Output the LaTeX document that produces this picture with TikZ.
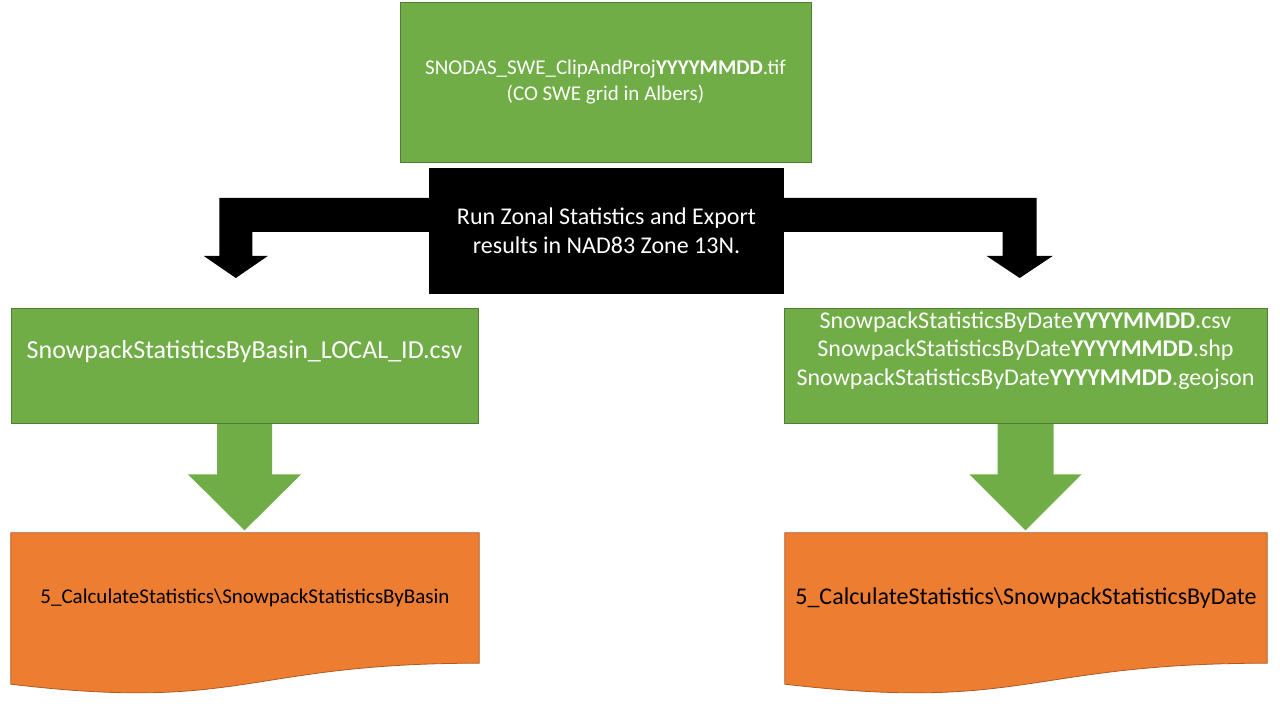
\documentclass[tikz,border=0pt]{standalone}
\usepackage{fontspec}
\setmainfont{Carlito}
\usetikzlibrary{calc,backgrounds}
\definecolor{boxgreen}{HTML}{70AD47}
\definecolor{linegreen}{HTML}{507E32}
\definecolor{boxorange}{HTML}{ED7D31}
\definecolor{lineorange}{HTML}{AE5A21}

\begin{document}
\begin{tikzpicture}[x=1pt,y=1pt,
  greenbox/.style={draw=linegreen,fill=boxgreen,line width=0.8pt,inner sep=0pt},
  greentext/.style={text=white,align=center,inner sep=0pt},
  blackbox/.style={fill=black,text=white,align=center,inner sep=0pt},
  folder/.style={align=center,inner sep=0pt},
  folderfill/.style={draw=lineorange,fill=boxorange,line width=0.8pt}]
  \useasboundingbox (0,0) rectangle (1280,720);

  \node[greenbox,greentext,minimum width=411,minimum height=160,
    font=\fontsize{21}{26}\selectfont] (grid) at (605.5,638)
    {SNODAS\_SWE\_ClipAndProj\textbf{YYYYMMDD}.tif\\(CO SWE grid in Albers)};
  \node[blackbox,minimum width=355,minimum height=126,
    font=\fontsize{24}{29}\selectfont] (zonal) at (606.5,489)
    {Run Zonal Statistics and Export\\results in NAD83 Zone 13N.};

  \node[greenbox,minimum width=467,minimum height=115] (basin) at (244.5,354.5) {};
  \node[greentext,font=\fontsize{26}{31}\selectfont] (basintext) at ($(basin.center)+(0,14)$)
    {SnowpackStatisticsByBasin\_LOCAL\_ID.csv};
  \node[greenbox,minimum width=483,minimum height=115] (date) at (1025.5,354.5) {};
  \node[greentext,font=\fontsize{24}{28.5}\selectfont] (datetext) at ($(date.center)+(0,15)$)
    {SnowpackStatisticsByDate\textbf{YYYYMMDD}.csv\\
     SnowpackStatisticsByDate\textbf{YYYYMMDD}.shp\\
     SnowpackStatisticsByDate\textbf{YYYYMMDD}.geojson};

  \node[folder,minimum width=468,minimum height=130,font=\fontsize{21}{25}\selectfont]
    (basinfolder) at (245,122) {5\_CalculateStatistics\textbackslash SnowpackStatisticsByBasin};
  \node[folder,minimum width=482,minimum height=130,font=\fontsize{24}{29}\selectfont]
    (datefolder) at (1026,122) {5\_CalculateStatistics\textbackslash SnowpackStatisticsByDate};

  \begin{scope}[on background layer]
    % bent arrows out of the black box
    \fill[black] (zonal.west) ++(0,33) -- ++(-209.5,0) -- ++(0,-58) -- ++(-15.5,0)
      -- ++(32,-22) -- ++(32,22) -- ++(-15.5,0) -- ++(0,24) -- ++(176.5,0) -- cycle;
    \fill[black] (zonal.east) ++(0,33) -- ++(252.5,0) -- ++(0,-58) -- ++(16,0)
      -- ++(-33,-22) -- ++(-33,22) -- ++(16,0) -- ++(0,24) -- ++(-218.5,0) -- cycle;
    % down arrows
    \fill[boxgreen] (basin.south) ++(-27.5,0) -- ++(0,-51) -- ++(-29,0)
      -- ++(56.5,-56) -- ++(56.5,56) -- ++(-29,0) -- ++(0,51) -- cycle;
    \fill[boxgreen] (date.south) ++(-28,0) -- ++(0,-51) -- ++(-28,0)
      -- ++(56,-56) -- ++(56,56) -- ++(-28,0) -- ++(0,51) -- cycle;
    % document shapes
    \foreach \doc in {basinfolder,datefolder}
      \draw[folderfill] (\doc.north west) -- (\doc.north east) -- (\doc.south east)
        .. controls (\doc.south) and ($(\doc.south)+(0,-49)$) ..
        ($(\doc.south west)+(0,-21)$) -- cycle;
  \end{scope}
\end{tikzpicture}
\end{document}
